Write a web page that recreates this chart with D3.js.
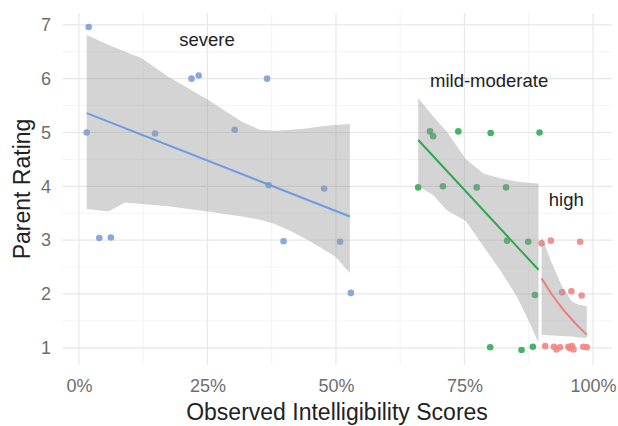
<!DOCTYPE html>
<html>
<head>
<meta charset="utf-8">
<script src="https://cdnjs.cloudflare.com/ajax/libs/d3/7.8.5/d3.min.js"></script>
<style>
  html, body { margin: 0; padding: 0; background: #fff; }
  svg { display: block; }
  text { font-family: "Liberation Sans", Arial, Helvetica, sans-serif; }
</style>
</head>
<body>
<svg id="chart" width="618" height="426"></svg>
<script>
// ---------- DATA ----------
const groups = ["severe", "mild-moderate", "high"];
const groupColors = { "severe": "#7e9ddf", "mild-moderate": "#33ab57", "high": "#ef8682" };
const lineColors = { "severe": "#6f9ae2", "mild-moderate": "#2ea84f", "high": "#ec7f78" };

const xTicks = [0, 25, 50, 75, 100];
const xTickLabels = ["0%", "25%", "50%", "75%", "100%"];
const yTicks = [1, 2, 3, 4, 5, 6, 7];
const xMinor = [12.5, 37.5, 62.5, 87.5];
const yMinor = [1.5, 2.5, 3.5, 4.5, 5.5, 6.5];

// points: [score %, rating]
const severePoints = [
  [1.9, 6.96], [1.5, 5.0], [14.8, 4.98], [21.9, 6.0], [23.3, 6.06], [30.3, 5.05],
  [36.6, 6.0], [36.9, 4.02], [3.95, 3.04], [6.2, 3.05], [39.8, 2.98], [47.7, 3.96],
  [50.8, 2.97], [52.9, 2.02]
];
const mildPoints = [
  [68.3, 5.02], [68.9, 4.93], [73.8, 5.02], [80.1, 4.99], [89.6, 5.0],
  [66.0, 3.98], [70.8, 4.0], [77.4, 3.98], [83.1, 3.98],
  [83.3, 2.99], [87.4, 2.97], [88.7, 1.98],
  [80.0, 1.01], [86.1, 0.96], [88.3, 1.02]
];
const highPoints = [
  [90.0, 2.94], [91.8, 2.99], [97.5, 2.97],
  [94.0, 2.03], [95.8, 2.05], [97.8, 1.97],
  [90.7, 1.03], [92.4, 1.02], [92.9, 0.97], [93.6, 1.01], [95.2, 1.02],
  [95.5, 0.99], [95.9, 1.03], [96.2, 0.97], [98.1, 1.02], [98.8, 1.01]
];

// fitted lines: [score %, rating]
const severeLine = [[1.5, 5.36], [52.7, 3.44]];
const mildLine = [[66.0, 4.86], [89.4, 2.45]];
const highLine = [[90.0, 2.29], [92.0, 1.99], [94.2, 1.71], [96.5, 1.46], [98.8, 1.24]];

// confidence bands: [score %, lower, upper]
const severeBand = [
  [1.5, 3.58, 6.81], [5.7, 3.53, 6.63], [9.0, 3.70, 6.50], [12.2, 3.67, 6.38],
  [17.3, 3.63, 6.04], [25.1, 3.53, 5.61], [31.7, 3.44, 5.20], [35.2, 3.38, 5.05],
  [38.1, 3.30, 5.03], [41.4, 3.16, 5.05], [44.6, 3.00, 5.08], [47.5, 2.83, 5.12],
  [49.8, 2.70, 5.14], [52.7, 2.39, 5.16]
];
const mildBand = [
  [66.0, 4.00, 5.64], [68.9, 3.84, 5.30], [71.5, 3.56, 5.02], [72.2, 3.52, 4.93],
  [75.2, 3.36, 4.51], [78.7, 2.88, 4.24], [81.9, 2.45, 4.15], [85.2, 1.95, 4.09],
  [87.7, 1.46, 4.06], [89.4, 1.09, 4.05]
];
const highBand = [
  [90.0, 1.24, 3.07], [92.0, 1.23, 2.57], [94.0, 1.22, 2.14],
  [95.9, 1.21, 1.86], [97.2, 1.19, 1.80], [98.8, 1.18, 1.77]
];

// group labels: [text, score %, rating]
const labelText = ["severe", "mild-moderate", "high"];
const labelX = [24.9, 79.8, 94.8];
const labelY = [6.72, 5.96, 3.75];

const xTitle = "Observed Intelligibility Scores";
const yTitle = "Parent Rating";

// ---------- CHART ----------
const svg = d3.select("#chart");
const panel = { left: 62, right: 612, top: 13, bottom: 365 };

const x = d3.scaleLinear().domain([-3.3, 103.7]).range([panel.left, panel.right]);
const y = d3.scaleLinear().domain([0.68, 7.22]).range([panel.bottom, panel.top]);

// grid
const grid = svg.append("g");
grid.selectAll(".xminor").data(xMinor).join("line")
  .attr("x1", d => x(d)).attr("x2", d => x(d))
  .attr("y1", panel.top).attr("y2", panel.bottom)
  .attr("stroke", "#f3f4f4").attr("stroke-width", 1);
grid.selectAll(".yminor").data(yMinor).join("line")
  .attr("y1", d => y(d)).attr("y2", d => y(d))
  .attr("x1", panel.left).attr("x2", panel.right)
  .attr("stroke", "#f3f4f4").attr("stroke-width", 1);
grid.selectAll(".xmajor").data(xTicks).join("line")
  .attr("x1", d => x(d)).attr("x2", d => x(d))
  .attr("y1", panel.top).attr("y2", panel.bottom)
  .attr("stroke", "#e6e8e8").attr("stroke-width", 1.2);
grid.selectAll(".ymajor").data(yTicks).join("line")
  .attr("y1", d => y(d)).attr("y2", d => y(d))
  .attr("x1", panel.left).attr("x2", panel.right)
  .attr("stroke", "#e6e8e8").attr("stroke-width", 1.2);

// axes (text only, via d3 axis)
const xAxis = d3.axisBottom(x).tickValues(xTicks)
  .tickFormat((d, i) => xTickLabels[i]).tickSize(0).tickPadding(0);
svg.append("g").attr("transform", `translate(0, 379)`).call(xAxis)
  .call(g => g.select(".domain").remove())
  .selectAll("text").attr("font-size", 18).attr("fill", "#6e6e6e")
  .attr("font-family", "Liberation Sans, Arial, sans-serif");

const yAxis = d3.axisLeft(y).tickValues(yTicks).tickFormat(d3.format("d"))
  .tickSize(0).tickPadding(0);
svg.append("g").attr("transform", `translate(51, 0)`).call(yAxis)
  .call(g => g.select(".domain").remove())
  .selectAll("text").attr("font-size", 18).attr("fill", "#6e6e6e")
  .attr("font-family", "Liberation Sans, Arial, sans-serif");

// points
const pointSets = [severePoints, mildPoints, highPoints];
pointSets.forEach((pts, gi) => {
  svg.append("g").selectAll("circle").data(pts).join("circle")
    .attr("cx", d => x(d[0])).attr("cy", d => y(d[1])).attr("r", 3.3)
    .attr("fill", groupColors[groups[gi]]).attr("opacity", 0.9);
});

// bands
const area = d3.area().x(d => x(d[0])).y0(d => y(d[1])).y1(d => y(d[2]));
[severeBand, mildBand, highBand].forEach(b => {
  svg.append("path").datum(b).attr("d", area)
    .attr("fill", "#999999").attr("fill-opacity", 0.42);
});

// lines
const line = d3.line().x(d => x(d[0])).y(d => y(d[1]));
[severeLine, mildLine, highLine].forEach((l, gi) => {
  svg.append("path").datum(l).attr("d", line)
    .attr("fill", "none").attr("stroke", lineColors[groups[gi]])
    .attr("stroke-width", 2);
});

// group labels
svg.append("g").selectAll("text").data(labelText).join("text")
  .attr("x", (d, i) => x(labelX[i])).attr("y", (d, i) => y(labelY[i]))
  .attr("text-anchor", "middle").attr("dominant-baseline", "central")
  .attr("font-size", 18.5).attr("fill", "#222")
  .text(d => d);

// titles
svg.append("text").attr("x", (panel.left + panel.right) / 2).attr("y", 420)
  .attr("text-anchor", "middle").attr("font-size", 23).attr("fill", "#222")
  .text(xTitle);
svg.append("text")
  .attr("transform", `translate(30, ${189}) rotate(-90)`)
  .attr("text-anchor", "middle").attr("font-size", 23).attr("fill", "#222")
  .text(yTitle);
</script>
</body>
</html>
